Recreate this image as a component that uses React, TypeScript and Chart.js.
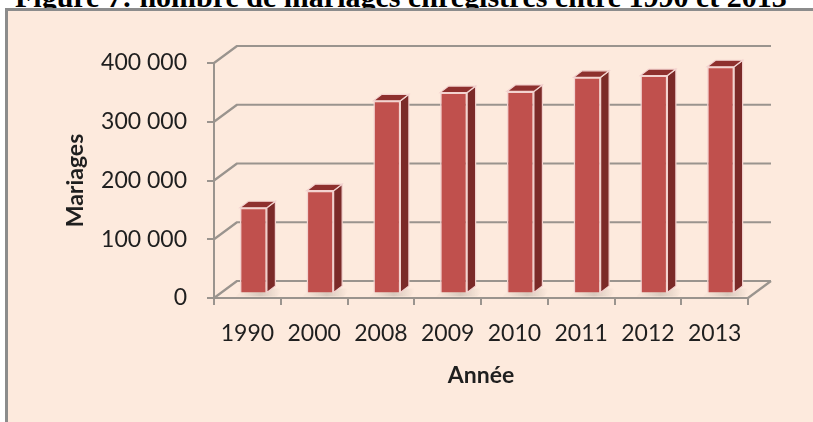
import React, { useEffect, useRef } from "react";
import { Chart, registerables } from "chart.js";

Chart.register(...registerables);

const categories = ["1990", "2000", "2008", "2009", "2010", "2011", "2012", "2013"];
const marriages = [146000, 175000, 328000, 342000, 344000, 368000, 371000, 386000];
const yTickValues = [0, 100000, 200000, 300000, 400000];
const titleText = "Figure 7: nombre de mariages enregistrés entre 1990 et 2013";
const yTitle = "Mariages";
const xTitle = "Année";

const WALL_DX = 23;
const WALL_DY = -17;
const BAR_DX = 6;
const BAR_DY = -4.5;
const BAR_DEPTH_X = 8.5;
const BAR_DEPTH_Y = -6.5;

const FONT = "Lato, 'Open Sans', sans-serif";
const TEXT = "#1f1f1f";
const GRID = "#9a948e";

const fmt = (v: number) => String(v).replace(/\B(?=(\d{3})+(?!\d))/g, " ");

const threeD = {
  id: "threeD",
  beforeDatasetsDraw(chart: any) {
    const { ctx, chartArea, scales } = chart;
    const { left, right, bottom } = chartArea;
    const y = scales.y;
    ctx.save();
    ctx.strokeStyle = GRID;
    ctx.lineWidth = 2.2;
    ctx.lineJoin = "round";
    yTickValues.forEach((v) => {
      const yy = y.getPixelForValue(v);
      ctx.beginPath();
      ctx.moveTo(left, yy);
      ctx.lineTo(left + WALL_DX, yy + WALL_DY);
      ctx.lineTo(right + WALL_DX, yy + WALL_DY);
      ctx.stroke();
    });
    ctx.beginPath();
    ctx.moveTo(right, bottom);
    ctx.lineTo(right + WALL_DX, bottom + WALL_DY);
    ctx.stroke();
    const meta = chart.getDatasetMeta(0);
    meta.data.forEach((bar: any) => {
      const { x, base, width } = bar.getProps(["x", "base", "width"], true);
      const x0 = x - width / 2 + BAR_DX;
      const b = base + BAR_DY;
      const g = ctx.createLinearGradient(x0, b, x0 + width + 14, b);
      g.addColorStop(0, "rgba(150,140,130,0.05)");
      g.addColorStop(0.5, "rgba(150,140,130,0.35)");
      g.addColorStop(1, "rgba(150,140,130,0.0)");
      ctx.fillStyle = g;
      ctx.beginPath();
      ctx.moveTo(x0 - 4, b + 4);
      ctx.lineTo(x0 + width + 10, b + 4);
      ctx.lineTo(x0 + width + 18, b - 4);
      ctx.lineTo(x0 + 4, b - 4);
      ctx.closePath();
      ctx.fill();
    });
    ctx.restore();
    ctx.save();
    ctx.translate(BAR_DX, BAR_DY);
  },
  afterDatasetsDraw(chart: any) {
    const { ctx } = chart;
    const meta = chart.getDatasetMeta(0);
    meta.data.forEach((bar: any) => {
      const { x, y, base, width } = bar.getProps(["x", "y", "base", "width"], true);
      const x0 = x - width / 2;
      const x1 = x + width / 2;
      ctx.lineWidth = 1.2;
      ctx.strokeStyle = "#f3d3d0";
      ctx.fillStyle = "#7b2a28";
      ctx.beginPath();
      ctx.moveTo(x1, y);
      ctx.lineTo(x1 + BAR_DEPTH_X, y + BAR_DEPTH_Y);
      ctx.lineTo(x1 + BAR_DEPTH_X, base + BAR_DEPTH_Y);
      ctx.lineTo(x1, base);
      ctx.closePath();
      ctx.fill();
      ctx.stroke();
      ctx.fillStyle = "#8e302e";
      ctx.beginPath();
      ctx.moveTo(x0, y);
      ctx.lineTo(x1, y);
      ctx.lineTo(x1 + BAR_DEPTH_X, y + BAR_DEPTH_Y);
      ctx.lineTo(x0 + BAR_DEPTH_X, y + BAR_DEPTH_Y);
      ctx.closePath();
      ctx.fill();
      ctx.stroke();
    });
    ctx.restore();
  },
};

export default function App() {
  const ref = useRef<HTMLCanvasElement | null>(null);

  useEffect(() => {
    if (!ref.current) return;
    const chart = new Chart(ref.current, {
      type: "bar",
      data: {
        labels: categories,
        datasets: [
          {
            label: yTitle,
            data: marriages,
            backgroundColor: "#c0504d",
            borderColor: "#f3d3d0",
            borderWidth: 1.5,
            categoryPercentage: 1,
            barPercentage: 0.405,
          },
        ],
      },
      options: {
        animation: false,
        responsive: true,
        maintainAspectRatio: false,
        layout: { padding: { left: 8, right: 65, top: 63, bottom: 0 } },
        plugins: {
          legend: { display: false },
          tooltip: { enabled: false },
          title: { display: false },
        },
        scales: {
          x: {
            grid: {
              display: true,
              drawOnChartArea: false,
              drawTicks: true,
              tickLength: 7,
              color: GRID,
              lineWidth: 2,
              offset: true,
            },
            border: { display: true, color: GRID, width: 2 },
            ticks: { color: TEXT, font: { family: FONT, size: 23 }, padding: 15 },
            title: {
              display: true,
              text: xTitle,
              color: TEXT,
              font: { family: FONT, size: 23, weight: "bold" },
              padding: { top: 0, bottom: 33 },
            },
            afterFit: (s: any) => {
              s.height = 124;
            },
          },
          y: {
            min: 0,
            max: 400000,
            ticks: {
              stepSize: 100000,
              color: TEXT,
              font: { family: FONT, size: 23 },
              padding: 20,
              callback: (v: any) => fmt(Number(v)),
            },
            grid: {
              display: true,
              drawOnChartArea: false,
              drawTicks: true,
              tickLength: 7,
              color: GRID,
              lineWidth: 2,
            },
            border: { display: true, color: GRID, width: 2 },
            title: {
              display: true,
              text: yTitle,
              color: TEXT,
              font: { family: FONT, size: 23, weight: "bold" },
              padding: { top: 54, bottom: 0 },
            },
            afterFit: (s: any) => {
              s.width = 206;
            },
          },
        },
      },
      plugins: [threeD],
    });
    return () => chart.destroy();
  }, []);

  return (
    <div
      style={{
        position: "fixed",
        left: 0,
        top: 0,
        width: 813,
        height: 422,
        overflow: "hidden",
        background: "#ffffff",
      }}
    >
      <div
        style={{
          position: "absolute",
          left: 15,
          top: -18,
          fontFamily: "'Liberation Serif', 'Times New Roman', serif",
          fontWeight: "bold",
          fontSize: 30,
          lineHeight: "30px",
          whiteSpace: "nowrap",
          color: "#000",
        }}
      >
        {titleText}
      </div>
      <div
        style={{
          position: "absolute",
          left: 5,
          top: 8,
          width: 900,
          height: 500,
          background: "#fdeadd",
          borderLeft: "3px solid #8c8c8c",
          borderTop: "3px solid #8c8c8c",
        }}
      />
      <div style={{ position: "absolute", left: 0, top: 0, width: 813, height: 422 }}>
        <canvas ref={ref} />
      </div>
    </div>
  );
}
